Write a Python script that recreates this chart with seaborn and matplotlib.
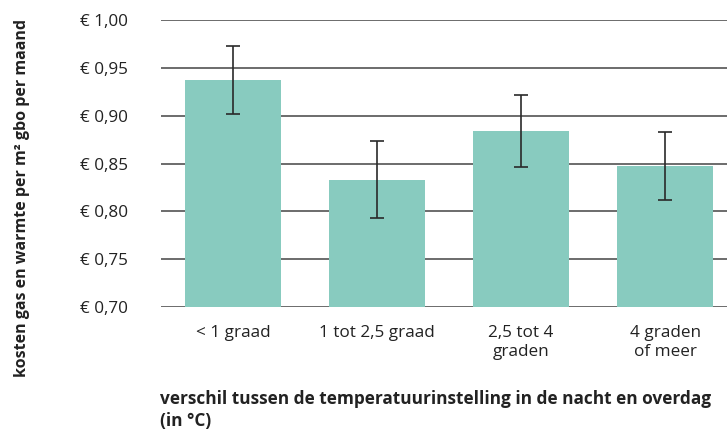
import matplotlib
matplotlib.use("Agg")
import matplotlib.pyplot as plt
import seaborn as sns
import pandas as pd
import numpy as np

categories = ["< 1 graad", "1 tot 2,5 graad", "2,5 tot 4\ngraden", "4 graden\nof meer"]
values = [0.937, 0.833, 0.884, 0.847]
err_low = [0.902, 0.793, 0.846, 0.812]
err_high = [0.973, 0.873, 0.922, 0.883]
yticks = [0.70, 0.75, 0.80, 0.85, 0.90, 0.95, 1.00]
ytick_labels = ["€ 0,70", "€ 0,75", "€ 0,80", "€ 0,85", "€ 0,90", "€ 0,95", "€ 1,00"]

sns.set_style("white")
plt.rcParams['font.family'] = ['Open Sans', 'DejaVu Sans']

df = pd.DataFrame({"cat": categories, "val": values})

fig = plt.figure(figsize=(7.27, 4.32), dpi=100)
ax = fig.add_axes([161/727, 1 - 307/432, 1 - 161/727, (307 - 20)/432])

for y in yticks:
    ax.axhline(y, color="#444444", lw=1.1, zorder=0)

sns.barplot(data=df, x="cat", y="val", color="#88CBBF", width=0.67,
            saturation=1, ax=ax, zorder=2, errorbar=None, linewidth=0)

x = np.arange(len(categories))
vals = np.array(values)
yerr = [vals - np.array(err_low), np.array(err_high) - vals]
ax.errorbar(x, vals, yerr=yerr, fmt="none", ecolor="#2a2a2a", elinewidth=1.2,
            capsize=5, capthick=1.2, zorder=3)

ax.set_ylim(0.70, 1.00)
ax.set_xlim(-0.5, 3.43)
ax.set_yticks(yticks)
ax.set_yticklabels(ytick_labels, fontsize=12.3, color="#222222")
ax.tick_params(axis="x", labelsize=12.3, colors="#222222", length=0, pad=13)
for lab in ax.get_xticklabels():
    lab.set_linespacing(1.25)
for lab in ax.get_yticklabels():
    lab.set_horizontalalignment("left")
ax.yaxis.set_tick_params(length=0, pad=81 * 0.72)
for s in ax.spines.values():
    s.set_visible(False)
ax.set_xlabel("")
ax.set_ylabel("")

fig.text(22/727, 1 - 198/432, "kosten gas en warmte per m² gbo per maand",
         rotation=90, ha="center", va="center", fontsize=11.5, fontweight="bold",
         color="#222222")
fig.text(160/727, 1 - 410/432,
         "verschil tussen de temperatuurinstelling in de nacht en overdag\n(in °C)",
         ha="left", va="center", fontsize=12.4, fontweight="bold", color="#222222",
         linespacing=1.3)

fig.savefig("out.png", dpi=100)
